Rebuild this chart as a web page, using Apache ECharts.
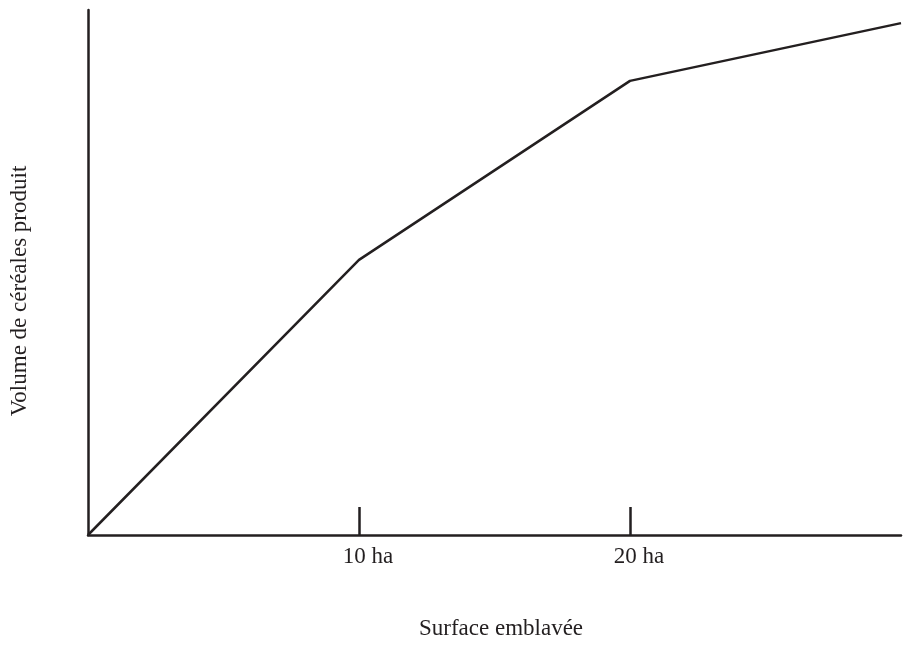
<!DOCTYPE html>
<html>
<head>
<meta charset="utf-8">
<script src="https://cdn.jsdelivr.net/npm/echarts@6/dist/echarts.min.js"></script>
<style>
  html, body { margin: 0; padding: 0; background: #ffffff; }
  #chart { width: 905px; height: 653px; }
</style>
</head>
<body>
<div id="chart"></div>
<script>
// Surface sown (ha) and the volume of cereals produced (arbitrary units)
const surfaceHa = [0, 10, 20, 30];
const volume = [0, 52.4, 86.5, 97.5];
const tickValues = [10, 20];
const tickLabels = ['10 ha', '20 ha'];

const ink = '#231f20';
const font = '"Liberation Serif", "DejaVu Serif", serif';

const chart = echarts.init(document.getElementById('chart'), null, { renderer: 'canvas' });

chart.setOption({
  backgroundColor: '#ffffff',
  animation: false,
  grid: {
    left: 88, right: 4, top: 10, bottom: 118,
    containLabel: false,
    outerBoundsMode: 'none'
  },
  xAxis: {
    type: 'value',
    min: 0,
    max: 30,
    interval: 10,
    name: 'Surface emblavée',
    nameLocation: 'middle',
    nameGap: 82,
    nameTextStyle: { color: ink, fontFamily: font, fontSize: 23, padding: [0, 0, 0, 13] },
    axisLine: { show: true, onZero: false, lineStyle: { color: ink, width: 2.5 } },
    axisTick: {
      show: true,
      inside: true,
      length: 28,
      customValues: tickValues,
      lineStyle: { color: ink, width: 2.5 }
    },
    axisLabel: {
      show: true,
      customValues: tickValues,
      margin: 10,
      color: ink,
      fontFamily: font,
      fontSize: 23,
      padding: [0, 0, 0, 18],
      formatter: v => tickLabels[tickValues.indexOf(v)] || ''
    },
    splitLine: { show: false }
  },
  yAxis: {
    type: 'value',
    min: 0,
    max: 100,
    name: 'Volume de céréales produit',
    nameLocation: 'middle',
    nameGap: 57,
    nameRotate: 90,
    nameTextStyle: { color: ink, fontFamily: font, fontSize: 23, padding: [0, 37, 0, 0] },
    axisLine: { show: true, onZero: false, lineStyle: { color: ink, width: 2.5 } },
    axisTick: { show: false },
    axisLabel: { show: false },
    splitLine: { show: false }
  },
  series: [{
    type: 'line',
    data: surfaceHa.map((x, i) => [x, volume[i]]),
    symbol: 'none',
    clip: false,
    lineStyle: { color: ink, width: 2.5 }
  }]
});
</script>
</body>
</html>
